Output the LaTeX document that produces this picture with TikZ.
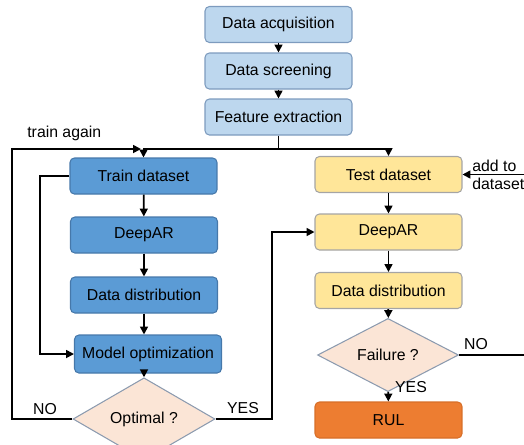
\documentclass[tikz,border=0pt]{standalone}
\usepackage{fontspec}
\setmainfont{Liberation Sans}
\usetikzlibrary{shapes.geometric,arrows.meta}
\definecolor{topfill}{RGB}{189,215,238}
\definecolor{topdraw}{RGB}{125,155,190}
\definecolor{bluefill}{RGB}{91,155,213}
\definecolor{bluedraw}{RGB}{70,120,170}
\definecolor{yelfill}{RGB}{255,230,153}
\definecolor{yeldraw}{RGB}{165,165,165}
\definecolor{peachfill}{RGB}{251,229,214}
\definecolor{peachdraw}{RGB}{140,155,175}
\definecolor{orfill}{RGB}{237,125,49}
\definecolor{ordraw}{RGB}{215,110,40}
\tikzset{
  base/.style={rectangle, rounded corners=2.5pt, minimum width=2.94cm, minimum height=0.72cm, inner sep=1pt, font=\fontsize{9}{11}\selectfont, line width=0.6pt},
  topbox/.style={base, fill=topfill, draw=topdraw},
  bluebox/.style={base, fill=bluefill, draw=bluedraw},
  yelbox/.style={base, fill=yelfill, draw=yeldraw},
  orbox/.style={base, fill=orfill, draw=ordraw},
  decision/.style={diamond, fill=peachfill, draw=peachdraw, line width=0.6pt, inner sep=0pt, font=\fontsize{9}{11}\selectfont},
  arr/.style={line width=1pt, -{Triangle[length=4.5pt,width=4.5pt]}},
  ln/.style={line width=1pt},
  lbl/.style={font=\fontsize{9}{11}\selectfont, inner sep=0pt}
}
\begin{document}
\begin{tikzpicture}[x=0.02cm, y=-0.02cm]
\useasboundingbox (0,0) rectangle (524,444);
% top
\node[topbox] (acq) at (278.5,24.5) {Data acquisition};
\node[topbox] (scr) at (278.5,71) {Data screening};
\node[topbox] (feat) at (278.5,117) {Feature extraction};
% left column
\node[bluebox] (train) at (143.5,176) {Train dataset};
\node[bluebox] (deepL) at (144,235) {DeepAR};
\node[bluebox] (distL) at (144,295) {Data distribution};
\node[bluebox, minimum height=0.76cm] (mopt) at (148,354) {Model optimization};
\node[decision, minimum width=2.84cm, minimum height=1.0cm] (opt) at (144,419) {\raisebox{-2pt}{Optimal ?}};
% right column
\node[yelbox] (test) at (388.5,174.5) {Test dataset};
\node[yelbox] (deepR) at (388.5,232) {DeepAR};
\node[yelbox] (distR) at (388.5,290.5) {Data distribution};
\node[decision, minimum width=2.82cm, minimum height=0.96cm] (fail) at (388,355) {Failure ?};
\node[orbox] (rul) at (388.5,420) {RUL};
% coordinates
\coordinate (split) at (278.5,149);
\coordinate (noL) at (12,419);
\coordinate (taEnd) at (141,149);
\coordinate (loopL) at (40,176);
\coordinate (yesC) at (272,419);
\coordinate (noR) at (524,355);
\coordinate (addR) at (524,174.5);
% labels
\node[lbl, anchor=west] (trainagain) at (27,133) {train again};
\node[lbl] (noLbl) at (45,409) {NO};
\node[lbl] (yesLbl) at (243,408) {YES};
\node[lbl] (noRLbl) at (476,344) {NO};
\node[lbl] (yesRLbl) at (411,387) {YES};
\node[lbl, anchor=north west, align=left, font=\fontsize{9}{10}\selectfont] (addLbl) at (472,160) {add to\\dataset};
% connectors
\draw[arr] (acq) -- (scr);
\draw[arr] (scr) -- (feat);
\draw[ln] (feat.south) -- (split);
\draw[arr] (split) -| (train.north);
\draw[arr] (split) -| (test.north);
\draw[arr] (train) -- (deepL);
\draw[arr] (deepL) -- (distL);
\draw[arr] (distL.south) -- (distL.south |- mopt.north);
\draw[arr] (mopt.south -| opt.north) -- (opt.north);
\draw[arr] (train.west) -- (loopL) |- (mopt.west);
\draw[arr] (opt.west) -- (noL) |- (taEnd);
\draw[arr] (opt.east) -- (yesC) |- (deepR.west);
\draw[arr] (test) -- (deepR);
\draw[arr] (deepR) -- (distR);
\draw[arr] (distR) -- (fail);
\draw[arr] (fail) -- (rul);
\draw[ln] (fail.east) -- (noR);
\draw[arr] (addR) -- (test.east);
\end{tikzpicture}
\end{document}
